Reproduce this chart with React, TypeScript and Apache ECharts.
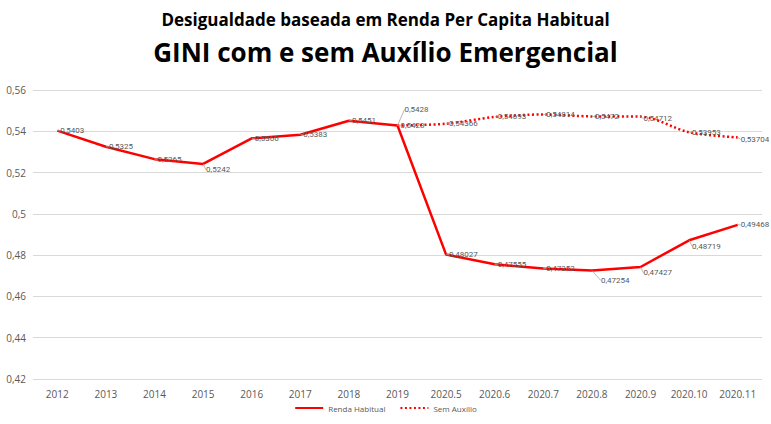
import React, { useEffect, useRef } from "react";
import * as echarts from "echarts";

const categories = ["2012", "2013", "2014", "2015", "2016", "2017", "2018", "2019", "2020.5", "2020.6", "2020.7", "2020.8", "2020.9", "2020.10", "2020.11"];
const rendaHabitual = [0.5403, 0.5325, 0.5265, 0.5242, 0.5366, 0.5383, 0.5451, 0.5428, 0.48027, 0.47555, 0.47352, 0.47254, 0.47427, 0.48719, 0.49468];
const semAuxilio = [null, null, null, null, null, null, null, 0.5428, 0.54366, 0.54693, 0.54814, 0.5472, 0.54712, 0.53953, 0.53704];
const yTicks = [0.42, 0.44, 0.46, 0.48, 0.5, 0.52, 0.54, 0.56];

const fmt = (v: number) => String(v).replace(".", ",");
const FONT = "'Open Sans', sans-serif";
const LFONT = "Roboto, sans-serif";

export default function App() {
  const ref = useRef<HTMLDivElement>(null);
  useEffect(() => {
    const chart = echarts.init(ref.current!, null, { renderer: "svg" });
    const labelBase = { show: true, position: "right" as const, distance: 3, fontSize: 8, color: "#595959", fontFamily: LFONT, formatter: (p: any) => fmt(p.value) };
    chart.setOption({
      animation: false,
      backgroundColor: "#ffffff",
      title: [
        { text: "Desigualdade baseada em Renda Per Capita Habitual", left: "center", top: 6, textStyle: { fontFamily: FONT, fontWeight: "bold", fontSize: 17, color: "#000" } },
        { text: "GINI com e sem Auxílio Emergencial", left: "center", top: 34, textStyle: { fontFamily: FONT, fontWeight: "bold", fontSize: 26, color: "#000" } },
      ],
      legend: {
        bottom: 7, left: "center", itemWidth: 28, itemHeight: 6, itemGap: 14,
        itemStyle: { opacity: 0 },
        textStyle: { fontSize: 8, color: "#595959", fontFamily: FONT },
        data: ["Renda Habitual", "Sem Auxílio"],
      },
      grid: { left: 33, right: 9, top: 90, bottom: 45 },
      xAxis: {
        type: "category", data: categories, boundaryGap: true,
        axisLine: { show: false }, axisTick: { show: false },
        axisLabel: { fontSize: 10, color: "#595959", fontFamily: FONT, margin: 10, interval: 0 },
      },
      yAxis: {
        type: "value", min: yTicks[0], max: yTicks[yTicks.length - 1], interval: 0.02,
        axisLabel: { fontSize: 10, color: "#595959", fontFamily: FONT, margin: 7, formatter: (v: number) => fmt(Number(v.toFixed(2))) },
        splitLine: { lineStyle: { color: "#d9d9d9" } },
      },
      series: [
        {
          name: "Renda Habitual", type: "line", data: rendaHabitual, symbol: "circle", symbolSize: 0, showSymbol: true,
          lineStyle: { color: "#ff0000", width: 2.5, type: "solid" }, itemStyle: { color: "#ff0000" },
          label: labelBase,
          labelLayout: (p: any) => {
            if (p.dataIndex === 11) return { dx: 6, dy: 10 };
            if (p.dataIndex === 3 || p.dataIndex === 12 || p.dataIndex === 13) return { dy: 6 };
            return {};
          },
          labelLine: { show: true, lineStyle: { color: "#a6a6a6", width: 0.8 } },
        },
        {
          name: "Sem Auxílio", type: "line", data: semAuxilio, symbol: "circle", symbolSize: 0, showSymbol: true, smooth: 0.3, connectNulls: false,
          lineStyle: { color: "#ff0000", width: 2.5, type: [2, 2.5] }, itemStyle: { color: "#ff0000" },
          label: labelBase,
          labelLayout: (p: any) => {
            if (p.dataIndex === 7) return { dx: 4, dy: -16 };
            if (p.dataIndex === 12 || p.dataIndex === 14) return { dy: 2 };
            return {};
          },
          labelLine: { show: true, lineStyle: { color: "#a6a6a6", width: 0.8 } },
        },
      ],
    });
    return () => chart.dispose();
  }, []);
  return <div ref={ref} style={{ position: "fixed", left: 0, top: 0, width: 771, height: 424 }} />;
}
